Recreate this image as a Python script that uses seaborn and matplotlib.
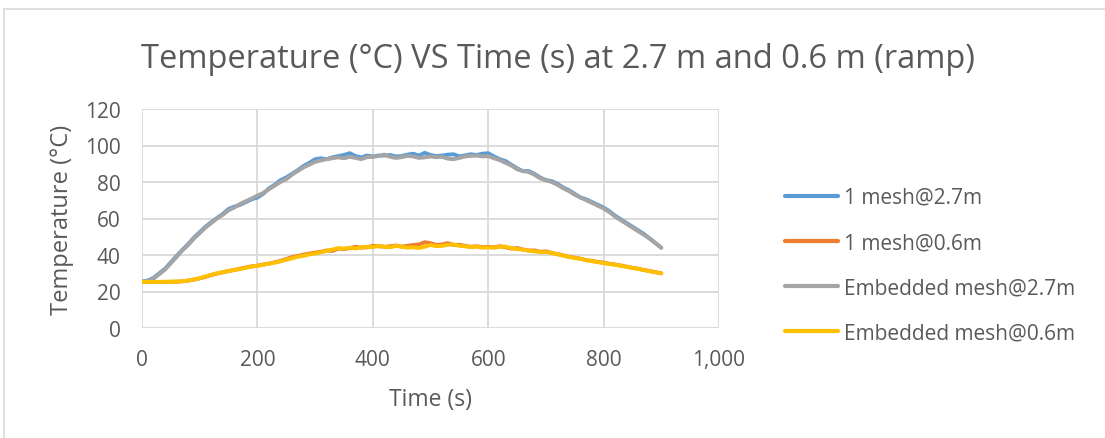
import numpy as np
import pandas as pd
import matplotlib
matplotlib.use("Agg")
import matplotlib.pyplot as plt
from matplotlib.patches import Rectangle
from matplotlib.ticker import FuncFormatter, MultipleLocator
import seaborn as sns

# Sample times (s)
time_s = list(range(0, 901, 10))

# Temperature (°C) readings for each configuration
mesh1_27 = [25.4, 26.0, 27.5, 30.0, 32.5, 36.0, 39.5, 42.8, 46.0, 49.5,
            52.5, 55.5, 58.0, 60.3, 62.5, 65.2, 66.5, 67.5, 69.0, 70.5,
            71.5, 73.5, 76.5, 78.5, 81.0, 82.5, 84.5, 86.5, 88.8, 90.5,
            92.5, 93.0, 92.5, 93.5, 94.2, 94.8, 95.8, 94.2, 93.5, 94.5,
            94.0, 94.5, 94.5, 94.8, 94.0, 94.2, 95.0, 95.5, 94.5, 96.0,
            94.8, 94.2, 94.5, 95.0, 95.2, 94.0, 94.6, 95.2, 94.8, 95.5,
            95.8, 94.0, 92.5, 91.5, 89.5, 87.5, 86.0, 86.0, 84.5, 82.5,
            81.0, 80.5, 79.0, 77.0, 75.5, 73.5, 71.5, 70.5, 69.0, 67.5,
            66.0, 64.0, 61.5, 59.5, 57.5, 55.5, 53.5, 51.5, 49.0, 46.5,
            44.0]

mesh1_06 = [25.2, 25.2, 25.3, 25.2, 25.3, 25.3, 25.4, 25.6, 26.0, 26.5,
            27.2, 28.0, 29.0, 29.8, 30.5, 31.2, 31.8, 32.5, 33.2, 33.8,
            34.2, 34.8, 35.3, 36.0, 36.8, 37.8, 38.8, 39.5, 40.2, 40.8,
            41.3, 41.8, 42.5, 42.2, 43.5, 43.2, 43.8, 44.5, 44.0, 44.2,
            45.0, 44.8, 44.5, 44.8, 45.2, 44.6, 45.0, 45.5, 45.8, 47.0,
            46.5, 45.5, 45.8, 46.5, 45.5, 45.6, 45.0, 44.5, 44.8, 44.3,
            44.5, 44.2, 44.8, 44.2, 43.5, 43.8, 43.0, 42.5, 42.5, 41.8,
            42.0, 41.2, 40.5, 39.8, 39.0, 38.5, 38.0, 37.2, 36.8, 36.2,
            35.8, 35.2, 34.8, 34.2, 33.6, 33.0, 32.5, 31.8, 31.2, 30.6,
            30.0]

embedded_27 = [25.4, 25.5, 27.0, 29.5, 32.0, 35.5, 39.0, 42.5, 45.5, 49.0,
               52.0, 55.0, 57.5, 60.0, 62.0, 64.5, 66.0, 68.0, 69.5, 71.0,
               72.5, 74.0, 76.0, 78.0, 80.0, 81.5, 84.0, 86.0, 88.0, 89.5,
               91.0, 91.8, 92.5, 93.0, 93.5, 93.0, 93.8, 93.2, 92.5, 93.6,
               93.8, 94.2, 95.0, 93.8, 93.2, 93.6, 94.3, 94.0, 93.2, 93.5,
               94.0, 93.6, 93.8, 92.8, 92.5, 93.2, 94.0, 94.3, 94.5, 94.0,
               94.2, 93.0, 92.0, 90.5, 89.0, 87.0, 86.0, 85.5, 84.0, 82.0,
               81.0, 80.0, 78.5, 76.5, 75.0, 73.0, 71.5, 70.0, 68.5, 67.0,
               65.5, 63.5, 61.0, 59.0, 57.0, 55.0, 53.0, 51.0, 49.0, 46.5,
               44.0]

embedded_06 = [25.3, 25.3, 25.2, 25.3, 25.3, 25.4, 25.4, 25.6, 26.0, 26.6,
               27.3, 28.2, 29.2, 30.0, 30.6, 31.3, 31.8, 32.3, 33.0, 33.6,
               34.1, 34.6, 35.2, 35.8, 36.5, 37.4, 38.2, 39.0, 39.6, 40.3,
               40.8, 41.5, 42.3, 43.0, 43.8, 43.5, 44.0, 43.6, 44.2, 44.5,
               44.3, 45.0, 44.5, 44.2, 45.0, 44.6, 44.0, 44.3, 43.8, 44.5,
               45.5, 44.8, 45.0, 45.6, 45.8, 45.0, 44.8, 44.3, 44.6, 44.0,
               44.2, 44.0, 44.5, 44.6, 43.8, 43.2, 43.0, 42.3, 42.0, 41.5,
               41.6, 41.1, 40.4, 39.6, 38.9, 38.4, 37.9, 37.1, 36.6, 36.1,
               35.6, 35.1, 34.6, 34.1, 33.5, 32.9, 32.4, 31.7, 31.1, 30.5,
               29.9]

series_names = ["1 mesh@2.7m", "1 mesh@0.6m",
                "Embedded mesh@2.7m", "Embedded mesh@0.6m"]
series_values = [mesh1_27, mesh1_06, embedded_27, embedded_06]
series_colors = ["#5B9BD5", "#ED7D31", "#A5A5A5", "#FFC000"]

frames = [pd.DataFrame({"Time (s)": time_s, "Temperature": vals, "Series": name})
          for name, vals in zip(series_names, series_values)]
df = pd.concat(frames, ignore_index=True)

sns.set_theme(style="white")
plt.rcParams["font.family"] = ["Open Sans", "DejaVu Sans"]

W, H = 1105, 439
fig = plt.figure(figsize=(W / 100, H / 100), dpi=100)
fig.patch.set_facecolor("white")

# light outer chart frame
fig.patches.append(Rectangle((4 / W, -0.2), 1.2, (H - 10) / H + 0.2,
                             transform=fig.transFigure, fill=False,
                             edgecolor="#D9D9D9", linewidth=1.2))

ax = fig.add_axes([142 / W, (H - 329) / H, (719 - 142) / W, (329 - 110) / H])

sns.lineplot(data=df, x="Time (s)", y="Temperature", hue="Series",
             hue_order=series_names, palette=series_colors,
             linewidth=2.8, ax=ax, legend=True)

text_color = "#595959"
grid_color = "#D9D9D9"

ax.set_xlim(0, 1000)
ax.set_ylim(0, 120)
ax.xaxis.set_major_locator(MultipleLocator(200))
ax.yaxis.set_major_locator(MultipleLocator(20))
ax.xaxis.set_major_formatter(FuncFormatter(lambda v, p: f"{int(v):,}"))
ax.grid(True, color=grid_color, linewidth=1.3)
ax.set_axisbelow(True)
for s in ax.spines.values():
    s.set_visible(False)
ax.tick_params(axis="both", length=0, labelsize=15, colors=text_color)
ax.tick_params(axis="y", pad=15.5)
ax.tick_params(axis="x", pad=15)

ax.set_xlabel("Time (s)", fontsize=16.5, color=text_color)
ax.set_ylabel("Temperature (°C)", fontsize=17, color=text_color)
ax.xaxis.set_label_coords(0.5, -(400 - 329) / (329 - 110), transform=ax.transAxes)
ax.xaxis.label.set_va("center")
ax.yaxis.set_label_coords(-(142 - 62) / (719 - 142), 0.5, transform=ax.transAxes)
ax.yaxis.label.set_va("center")

fig.text(558 / W, 1 - 60 / H, "Temperature (°C) VS Time (s) at 2.7 m and 0.6 m (ramp)",
         ha="center", va="center", fontsize=23.5, color=text_color)

handles, labels = ax.get_legend_handles_labels()
ax.get_legend().remove()
leg = fig.legend(handles, labels, loc="upper left",
                 bbox_to_anchor=(785 / W, 1 - 188 / H),
                 frameon=False, fontsize=15, handlelength=2.55,
                 handletextpad=0.3, labelspacing=1.16, borderpad=0,
                 borderaxespad=0)
for t in leg.get_texts():
    t.set_color(text_color)
for line in leg.get_lines():
    line.set_linewidth(3)

fig.savefig("out.png", dpi=100)
